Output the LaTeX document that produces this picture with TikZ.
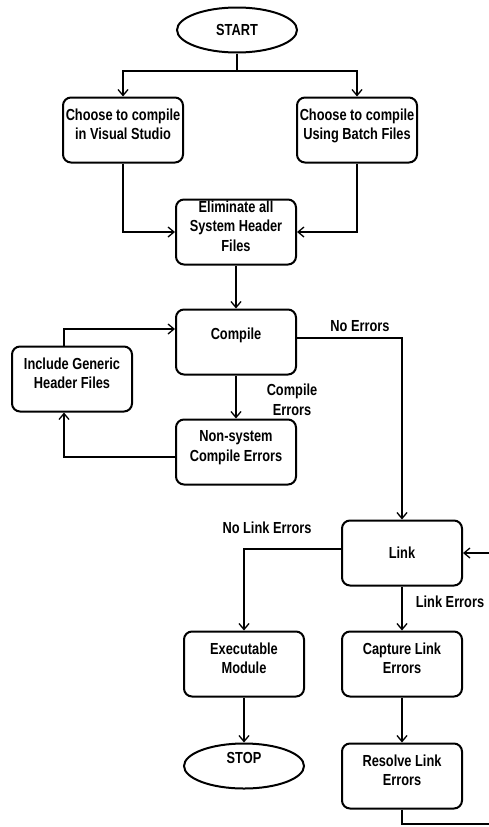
\documentclass[tikz,border=0pt]{standalone}
\usepackage{fontspec}
\setmainfont{Liberation Sans}[FakeStretch=0.8]
\usetikzlibrary{arrows.meta, positioning, quotes, shapes.geometric}
\usepackage{xcolor}
\def\boxwd{120pt}

\begin{document}
\begin{tikzpicture}[x=1pt,y=1pt,->,>={Straight Barb[length=6pt,width=10pt]},line width=1.3pt,
    font=\fontsize{16}{19.5}\selectfont\bfseries]
    \tikzstyle{step box}=[rectangle,rounded corners=8pt,draw=black,line width=2pt,minimum width=\boxwd,minimum height=65pt,inner sep=1pt,align=center,text depth=12pt]
    \tikzstyle{terminal}=[ellipse,draw=black,line width=2pt,minimum width=120pt,minimum height=45pt,inner sep=1pt]
    \tikzstyle{annot}=[align=center,inner sep=0pt]

    \useasboundingbox (0,0) rectangle (489,-827);

    \node[terminal] (start) at (237,-30) {START};
    \node[step box] (vs) at (123,-130) {Choose to compile\\in Visual Studio};
    \node[step box] (batch) at (357,-130) {Choose to compile\\Using Batch Files};
    \node[step box] (elim) at (236,-232) {Eliminate all\\System Header\\Files};
    \node[step box, text depth=17pt] (comp) at (236,-342) {Compile};
    \node[step box] (incl) at (72,-379) {Include Generic\\Header Files};
    \node[step box] (nonsys) at (236,-452) {Non-system\\Compile Errors};
    \node[step box, text depth=1pt] (link) at (402,-553) {Link};
    \node[step box] (exe) at (244,-664) {Executable\\Module};
    \node[step box] (capt) at (402,-664) {Capture Link\\Errors};
    \node[terminal, text depth=17pt] (stop) at (244,-766) {STOP};
    \node[step box] (resolve) at (402,-776) {Resolve Link\\Errors};

    \coordinate (split) at (237,-71);
    \coordinate (loopin) at (489,-553);
    \coordinate (loopout) at (489,-824);

    \draw (start) -- (split) -| (vs);
    \draw (split) -| (batch);
    \draw (vs) |- (elim);
    \draw (batch) |- (elim);
    \draw (elim) -- (comp);
    \draw ([xshift=-8pt]incl.north) |- ([yshift=13pt]comp.west);
    \draw (comp) -- (nonsys);
    \draw ([yshift=-5pt]nonsys.west) -| ([xshift=-8pt]incl.south);
    \draw ([yshift=4pt]comp.east) -| (link);
    \draw ([yshift=4pt]link.west) -| (exe);
    \draw (link) -- (capt);
    \draw (exe) -- (stop);
    \draw (capt) -- (resolve);
    \draw[-] (resolve) |- (loopout);
    \draw (loopin) -- (link);

    \node[annot] (lbl-noerr) at (360,-326) {No Errors};
    \node[annot] (lbl-comperr) at (292,-400) {Compile\\Errors};
    \node[annot] (lbl-nolink) at (267,-528) {No Link Errors};
    \node[annot] (lbl-linkerr) at (450,-602) {Link Errors};
\end{tikzpicture}
\end{document}
